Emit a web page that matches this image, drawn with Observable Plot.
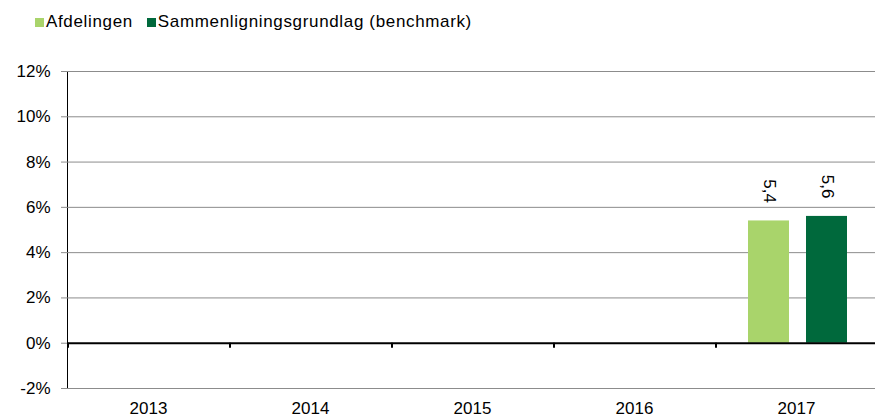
<!DOCTYPE html>
<html><head><meta charset="utf-8">
<script src="https://cdn.jsdelivr.net/npm/d3@7"></script>
<script src="https://cdn.jsdelivr.net/npm/@observablehq/plot@0.6"></script>
<style>
body{margin:0;background:#fff;font-family:"Liberation Sans",Arial,sans-serif;overflow:hidden;}
#legend{height:40px;position:relative;font-size:17px;color:#000;display:flex;align-items:center;padding-left:35px;box-sizing:border-box;padding-top:4px;letter-spacing:0.65px;}
.item{display:flex;align-items:center;margin-right:14px;}
.sw{width:9px;height:9px;margin-right:2px;display:inline-block;}
#chart svg [aria-label^="y-axis"] line,#chart svg [aria-label^="y-axis"] path{stroke:#8c8c8c;}
</style></head><body>
<div id="legend"></div><div id="chart"></div>
<script>
const years = ["2013", "2014", "2015", "2016", "2017"];
const seriesNames = ["Afdelingen", "Sammenligningsgrundlag (benchmark)"];
const afdelingen = [null, null, null, null, 5.4];
const benchmark = [null, null, null, null, 5.6];
const yTicks = [-2, 0, 2, 4, 6, 8, 10, 12];
const colors = ["#a9d46b", "#00693c"];

const rows = [];
years.forEach((yr, i) => {
  rows.push({year: yr, series: seriesNames[0], value: afdelingen[i]});
  rows.push({year: yr, series: seriesNames[1], value: benchmark[i]});
});

const legend = document.getElementById("legend");
seriesNames.forEach((s, i) => {
  const it = document.createElement("span");
  it.className = "item";
  const sw = document.createElement("span");
  sw.className = "sw";
  sw.style.background = colors[i];
  it.appendChild(sw);
  it.appendChild(document.createTextNode(s));
  legend.appendChild(it);
});

const boundaryTicks = (index, scales, values, dimensions) => {
  const g = d3.create("svg:g");
  const y0 = scales.y(0);
  const x = (dimensions.marginLeft || 0) + 1;
  g.append("line").attr("x1", x).attr("x2", x).attr("y1", y0).attr("y2", y0 + 5)
    .attr("stroke", "#000").attr("stroke-width", 2);
  return g.node();
};

const chart = Plot.plot({
  width: 875,
  height: 377,
  marginLeft: 65,
  marginRight: -3,
  marginTop: 31,
  marginBottom: 29,
  style: {fontFamily: "'Liberation Sans', Arial, sans-serif", fontSize: "17px", color: "#000", background: "#fff", overflow: "hidden"},
  facet: {data: rows, x: "year"},
  fx: {domain: years, padding: 0, label: null, tickSize: 0, tickPadding: 13},
  x: {domain: seriesNames, axis: null, paddingInner: 0.288, paddingOuter: 0.522, align: 0.52},
  y: {domain: [-2, 12], ticks: yTicks, tickFormat: d => d + "%", tickSize: 6, tickPadding: 11, label: null, line: true},
  color: {domain: seriesNames, range: colors},
  marks: [
    Plot.ruleY(yTicks.filter(t => t !== 0), {stroke: "#8c8c8c", strokeWidth: 1}),
    Plot.barY(rows, {filter: d => d.value != null, x: "series", y: "value", fill: "series"}),
    Plot.ruleY([0], {stroke: "#000", strokeWidth: 2}),
    boundaryTicks,
    Plot.text(rows, {filter: d => d.value != null, x: "series", y: "value", text: d => String(d.value).replace(".", ","), rotate: 90, textAnchor: "end", dy: -18, fontSize: 17, fill: "#000"})
  ]
});
document.getElementById("chart").appendChild(chart);
</script>
</body></html>
